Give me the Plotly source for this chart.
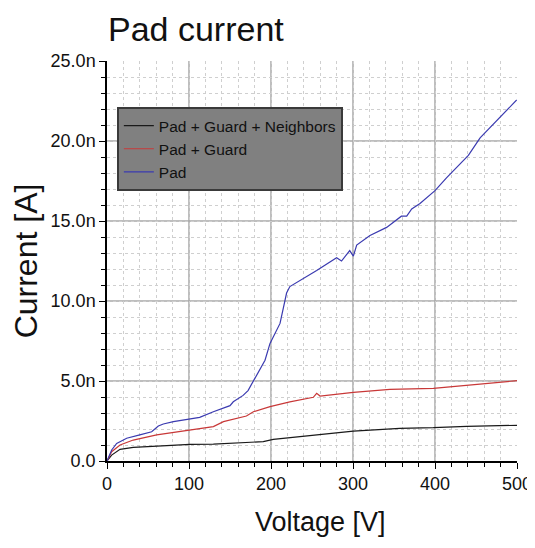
import plotly.graph_objects as go

# ---- data (voltage in V, current in nA) ----
v_pgn = [0, 5.7, 15.9, 32, 72.8, 101, 129.7, 190.6, 202.8, 243.5, 300.4, 357, 398, 438.7, 500]
i_pgn = [0, 0.37, 0.73, 0.85, 0.96, 1.04, 1.06, 1.21, 1.35, 1.58, 1.87, 2.04, 2.08, 2.17, 2.23]

v_pg = [0, 5.7, 15.9, 32, 60.6, 101, 129.7, 142, 170, 178.5, 198.8, 223, 251.6, 255.7, 259.8,
        300.4, 345, 398, 438.7, 475, 500]
i_pg = [0, 0.58, 1.0, 1.31, 1.63, 1.94, 2.15, 2.46, 2.81, 3.08, 3.4, 3.7, 3.98, 4.23, 4.06,
        4.29, 4.48, 4.54, 4.75, 4.92, 5.02]

v_pad = [0, 5.7, 11.8, 24, 40, 54.5, 62.6, 68.7, 81, 101, 113, 129.7, 150, 154, 166, 172,
         182.5, 192.7, 198.8, 211, 219, 223, 255.7, 280, 286, 296, 300.4, 304.5, 320.7,
         341, 359, 365.5, 371.6, 381.7, 400, 414, 440.7, 455, 499.6]
i_pad = [0, 0.69, 1.1, 1.42, 1.63, 1.83, 2.19, 2.31, 2.46, 2.6, 2.73, 3.08, 3.46, 3.7, 4.1, 4.4,
         5.4, 6.3, 7.35, 8.6, 10.5, 10.9, 11.9, 12.7, 12.5, 13.15, 12.8, 13.5, 14.1,
         14.6, 15.3, 15.3, 15.75, 16.1, 16.9, 17.7, 19.1, 20.2, 22.56]

series_names = ["Pad + Guard + Neighbors", "Pad + Guard", "Pad"]
series_colors = ["#1a1a1a", "#c83838", "#3a3ab0"]

x_ticks = [0, 100, 200, 300, 400, 500]
x_ticklabels = ["0", "100", "200", "300", "400", "500"]
y_ticks = [0, 5, 10, 15, 20, 25]
y_ticklabels = ["0.0", "5.0n", "10.0n", "15.0n", "20.0n", "25.0n"]

FONT = "Liberation Sans, Arial, sans-serif"
MAJOR_GRID = "#a8a8a8"

fig = go.Figure()
for vx, iy, name, col in zip([v_pgn, v_pg, v_pad], [i_pgn, i_pg, i_pad], series_names, series_colors):
    fig.add_trace(go.Scatter(x=vx, y=iy, mode="lines", name=name,
                             line=dict(color=col, width=1.2)))

axis_common = dict(
    showline=True, linecolor="black", linewidth=1.5,
    ticks="outside", ticklen=6, tickcolor="black", tickwidth=1,
    showgrid=False,
    zeroline=False, automargin=False,
    tickfont=dict(family=FONT, size=18, color="#111"),
    minor=dict(ticks="outside", ticklen=4, tickcolor="black", showgrid=True,
               gridcolor="#cfcfcf", griddash="dot", gridwidth=1),
)

fig.update_xaxes(range=[0, 500], tickvals=x_ticks, ticktext=x_ticklabels, **axis_common)
fig.update_xaxes(minor_dtick=20, minor_tick0=0)
fig.update_yaxes(range=[0, 25], tickvals=y_ticks, ticktext=y_ticklabels,
                 title=dict(text="Current [A]", font=dict(family=FONT, size=32, color="#111"), standoff=20),
                 **axis_common)
fig.update_yaxes(minor_dtick=1, minor_tick0=0)

# major grid lines at interior ticks only (none on the top / right edge)
for xv in x_ticks[1:-1]:
    fig.add_shape(type="line", xref="x", yref="y domain", x0=xv, x1=xv, y0=0, y1=1,
                  line=dict(color=MAJOR_GRID, width=1.5), layer="below")
for yv in y_ticks[1:-1]:
    fig.add_shape(type="line", xref="x domain", yref="y", x0=0, x1=1, y0=yv, y1=yv,
                  line=dict(color=MAJOR_GRID, width=1.5), layer="below")

fig.add_annotation(text="Voltage [V]", xref="x domain", yref="y domain",
                   x=0.52, y=-0.152, xanchor="center", yanchor="middle", showarrow=False,
                   font=dict(family=FONT, size=27, color="#111"))

fig.update_layout(
    width=535, height=548,
    margin=dict(l=99, r=26, t=53, b=95, autoexpand=False),
    paper_bgcolor="white", plot_bgcolor="white",
    title=dict(text="Pad current", x=100/535, xanchor="left", xref="container",
               y=1 - 21/548, yanchor="middle", yref="container",
               font=dict(family=FONT, size=34, color="#111")),
    legend=dict(x=0.024, y=0.885, xanchor="left", yanchor="top",
                bgcolor="#808080", bordercolor="#3a3a3a", borderwidth=2,
                font=dict(family=FONT, size=15.5, color="#111"),
                tracegroupgap=0, itemwidth=30),
    showlegend=True,
)

fig.write_html("out.html")
